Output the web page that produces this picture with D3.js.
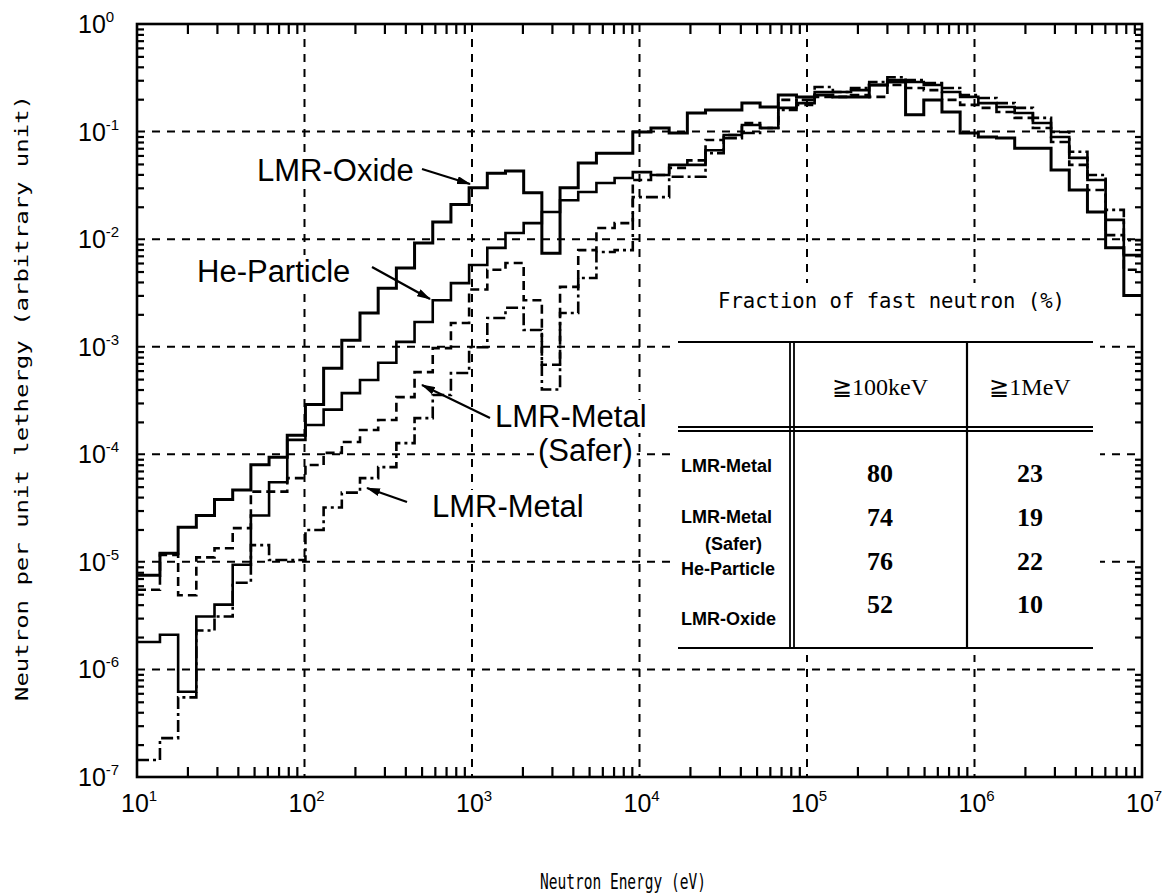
<!DOCTYPE html>
<html>
<head>
<meta charset="utf-8">
<script src="https://cdn.jsdelivr.net/npm/d3@7"></script>
<style>
  body { margin: 0; background: #fff; }
  text { fill: #000; }
</style>
</head>
<body>
<svg id="chart" width="1168" height="895"></svg>
<script>
// energy group boundaries (eV): 0.25 lethargy wide groups below 10 MeV, cut at the 10 eV axis
const groupEdges = d3.range(55).map(k => 1e7 * Math.exp(-0.25 * k)).concat([10]).reverse()

// neutron flux per unit lethargy, one value per group, low energy -> high energy
const lmrOxide = [7.5e-6, 1.2e-5, 2.1e-5, 2.7e-5, 3.8e-5, 4.65e-5, 8.0e-5, 9.4e-5, 1.5e-4, 2.9e-4,
  6.3e-4, 1.15e-3, 2.06e-3, 3.5e-3, 5.4e-3, 9.2e-3, 1.44e-2, 2.1e-2, 3.0e-2, 4.1e-2,
  4.3e-2, 2.7e-2, 7.4e-3, 3.0e-2, 5.1e-2, 6.3e-2, 6.3e-2, 9.9e-2, 0.108, 0.097,
  0.149, 0.159, 0.159, 0.184, 0.169, 0.219, 0.21, 0.219, 0.21, 0.21,
  0.271, 0.289, 0.143, 0.197, 0.152, 0.097, 0.089, 0.087, 0.070, 0.070,
  0.044, 0.0286, 0.0179, 0.0083, 0.0030]

const heParticle = [1.8e-6, 2.1e-6, 6.2e-7, 3.1e-6, 4.0e-6, 9.4e-6, 2.7e-5, 5.5e-5, 1.36e-4, 1.87e-4,
  2.6e-4, 3.7e-4, 4.9e-4, 7.1e-4, 1.11e-3, 1.7e-3, 2.7e-3, 3.9e-3, 5.75e-3, 8.3e-3,
  1.14e-2, 1.41e-2, 1.79e-2, 2.3e-2, 2.74e-2, 3.33e-2, 3.7e-2, 4.2e-2, 3.95e-2, 4.9e-2,
  4.9e-2, 6.7e-2, 9.3e-2, 0.115, 0.108, 0.166, 0.184, 0.233, 0.233, 0.243,
  0.271, 0.301, 0.289, 0.271, 0.233, 0.21, 0.184, 0.169, 0.149, 0.12,
  0.089, 0.057, 0.0355, 0.0151, 0.0071]

const lmrMetalSafer = [5.5e-6, 1.16e-5, 4.9e-6, 1.1e-5, 1.34e-5, 2.06e-5, 4.5e-5, 4.5e-5, 6.0e-5, 7.95e-5,
  1.03e-4, 1.3e-4, 1.68e-4, 2.08e-4, 3.4e-4, 5.8e-4, 9.7e-4, 1.66e-3, 3.4e-3, 5.2e-3,
  6.0e-3, 2.7e-3, 6.8e-4, 3.6e-3, 7.9e-3, 1.27e-2, 1.41e-2, 3.55e-2, 3.95e-2, 4.6e-2,
  5.4e-2, 8.35e-2, 9.3e-2, 0.12, 0.108, 0.197, 0.177, 0.21, 0.21, 0.219,
  0.21, 0.271, 0.254, 0.243, 0.197, 0.177, 0.166, 0.152, 0.134, 0.108,
  0.08, 0.049, 0.0286, 0.0109, 0.0052]

const lmrMetal = [1.44e-7, 2.3e-7, 5.5e-7, 2.3e-6, 3.1e-6, 6.4e-6, 1.43e-5, 1.04e-5, 1.04e-5, 1.98e-5,
  3.2e-5, 4.4e-5, 6.0e-5, 7.6e-5, 1.27e-4, 2.17e-4, 3.56e-4, 5.7e-4, 9.9e-4, 1.85e-3,
  2.3e-3, 1.43e-3, 4.0e-4, 2.06e-3, 4.35e-3, 7.6e-3, 7.9e-3, 2.46e-2, 2.46e-2, 3.8e-2,
  3.8e-2, 6.3e-2, 8.7e-2, 9.7e-2, 0.108, 0.159, 0.197, 0.26, 0.233, 0.254,
  0.289, 0.32, 0.301, 0.283, 0.254, 0.219, 0.205, 0.184, 0.166, 0.134,
  0.099, 0.065, 0.0395, 0.0187, 0.0098]

// inset table
const tableRows = ["LMR-Metal", "LMR-Metal", "He-Particle", "LMR-Oxide"]
const tableCols = ["≧100keV", "≧1MeV"]
const fracAbove100keV = [80, 74, 76, 52]
const fracAbove1MeV = [23, 19, 22, 10]

const xDecades = [1e1, 1e2, 1e3, 1e4, 1e5, 1e6, 1e7]
const yDecades = [1e-7, 1e-6, 1e-5, 1e-4, 1e-3, 1e-2, 1e-1, 1e0]

const svg = d3.select("#chart")
const plot = { left: 137, right: 1142, top: 24, bottom: 777 }

const x = d3.scaleLog().domain([10, 1e7]).range([plot.left, plot.right])
const y = d3.scaleLog().domain([1e-7, 1]).range([plot.bottom, plot.top])

const FONT = "'Liberation Sans', Arial, sans-serif"
const MONO = "'DejaVu Sans Mono', 'Liberation Mono', monospace"
const SERIF = "'Liberation Serif', 'DejaVu Serif', serif"

const defs = svg.append("defs")
defs.append("clipPath").attr("id", "plotclip")
  .append("rect")
  .attr("x", plot.left).attr("y", plot.top)
  .attr("width", plot.right - plot.left).attr("height", plot.bottom - plot.top)

// dashed decade grid
const grid = svg.append("g").attr("class", "grid")
  .attr("stroke", "#000").attr("stroke-width", 2).attr("stroke-dasharray", "8,7")
grid.selectAll("line.gx").data(xDecades.slice(1, -1)).enter().append("line")
  .attr("x1", d => x(d)).attr("x2", d => x(d))
  .attr("y1", plot.top).attr("y2", plot.bottom)
grid.selectAll("line.gy").data(yDecades.slice(1, -1)).enter().append("line")
  .attr("y1", d => y(d)).attr("y2", d => y(d))
  .attr("x1", plot.left).attr("x2", plot.right)

// spectra as step histograms
const seriesList = [
  { name: "LMR-Oxide", values: lmrOxide, width: 3, dash: null },
  { name: "He-Particle", values: heParticle, width: 2.6, dash: null },
  { name: "LMR-Metal (Safer)", values: lmrMetalSafer, width: 2.6, dash: "9,5" },
  { name: "LMR-Metal", values: lmrMetal, width: 2.6, dash: "12,4,3,4" }
]

const stepLine = d3.line()
  .x(d => x(d[0]))
  .y(d => y(d[1]))
  .curve(d3.curveStepAfter)

const lines = svg.append("g").attr("clip-path", "url(#plotclip)")
seriesList.forEach(s => {
  const pts = s.values.map((v, i) => [groupEdges[i], v])
  pts.push([groupEdges[groupEdges.length - 1], s.values[s.values.length - 1]])
  lines.append("path")
    .datum(pts)
    .attr("d", stepLine)
    .attr("fill", "none")
    .attr("stroke", "#000")
    .attr("stroke-width", s.width)
    .attr("stroke-dasharray", s.dash)
    .attr("stroke-linejoin", "miter")
})

// the inset table sits on a white panel that hides the grid behind it
svg.append("rect")
  .attr("x", 670).attr("y", 283).attr("width", 430).attr("height", 372)
  .attr("fill", "#fff")

// minor ticks, drawn inward on all four sides
const isDecade = d => Math.abs(Math.log10(d) - Math.round(Math.log10(d))) < 1e-6
const xMinor = x.ticks().filter(d => !isDecade(d))
const yMinor = y.ticks().filter(d => !isDecade(d))

function tickAxis(axis, transform) {
  const g = svg.append("g").attr("transform", transform).call(axis)
  g.select(".domain").remove()
  g.selectAll(".tick line").attr("stroke", "#000").attr("stroke-width", 2.2)
  g.selectAll(".tick text").remove()
}
tickAxis(d3.axisBottom(x).tickValues(xMinor).tickSize(-10), `translate(0,${plot.bottom})`)
tickAxis(d3.axisTop(x).tickValues(xMinor).tickSize(-10), `translate(0,${plot.top})`)
tickAxis(d3.axisLeft(y).tickValues(yMinor).tickSize(-7), `translate(${plot.left},0)`)
tickAxis(d3.axisRight(y).tickValues(yMinor).tickSize(-7), `translate(${plot.right},0)`)

// frame
svg.append("rect")
  .attr("x", plot.left).attr("y", plot.top)
  .attr("width", plot.right - plot.left).attr("height", plot.bottom - plot.top)
  .attr("fill", "none").attr("stroke", "#000").attr("stroke-width", 2.6)

// tick labels: 10 with a raised exponent
const xLab = svg.append("g").attr("font-family", FONT)
xDecades.forEach(d => {
  const t = xLab.append("text").attr("x", x(d) - 16).attr("y", 812).attr("font-size", 25)
  t.append("tspan").text("10")
  t.append("tspan").attr("dy", -11).attr("font-size", 15).text(Math.round(Math.log10(d)))
})
const yLab = svg.append("g").attr("font-family", FONT)
yDecades.forEach(d => {
  const t = yLab.append("text").attr("x", 78).attr("y", y(d) + 9).attr("font-size", 25)
  t.append("tspan").text("10")
  const e = Math.round(Math.log10(d))
  t.append("tspan").attr("dy", -11).attr("font-size", 15).text(e === 0 ? "0" : "-" + Math.abs(e))
})

// axis titles
svg.append("text")
  .attr("x", 540).attr("y", 889)
  .attr("font-family", MONO).attr("font-size", 22)
  .attr("textLength", 166).attr("lengthAdjust", "spacingAndGlyphs")
  .text("Neutron Energy  (eV)")

svg.append("text")
  .attr("transform", "translate(28,398) rotate(-90)")
  .attr("text-anchor", "middle")
  .attr("font-family", MONO).attr("font-size", 18)
  .attr("textLength", 606).attr("lengthAdjust", "spacingAndGlyphs")
  .text("Neutron per unit lethergy (arbitrary unit)")

// series labels with arrows
defs.append("marker")
  .attr("id", "arrowhead")
  .attr("viewBox", "0 0 14 8").attr("refX", 13).attr("refY", 4)
  .attr("markerWidth", 14).attr("markerHeight", 8)
  .attr("markerUnits", "userSpaceOnUse")
  .attr("orient", "auto")
  .append("path").attr("d", "M0,0 L14,4 L0,8 Z").attr("fill", "#000")

const notes = [
  { text: "LMR-Oxide", x: 257, y: 181, from: [422, 169], to: [470, 184] },
  { text: "He-Particle", x: 197, y: 282, from: [372, 267], to: [430, 299] },
  { text: "LMR-Metal", x: 495, y: 427, from: [490, 418], to: [422, 385] },
  { text: "(Safer)", x: 538, y: 461, from: null, to: null },
  { text: "LMR-Metal", x: 432, y: 517, from: [407, 502], to: [367, 488] }
]
const noteG = svg.append("g").attr("font-family", FONT)
notes.forEach(n => {
  const bg = noteG.append("rect").attr("fill", "#fff")
  const t = noteG.append("text").attr("x", n.x).attr("y", n.y).attr("font-size", 31).text(n.text)
  const b = t.node().getBBox()
  bg.attr("x", b.x - 4).attr("y", b.y + 1).attr("width", b.width + 8).attr("height", b.height - 2)
  if (n.from) {
    noteG.append("line")
      .attr("x1", n.from[0]).attr("y1", n.from[1])
      .attr("x2", n.to[0]).attr("y2", n.to[1])
      .attr("stroke", "#000").attr("stroke-width", 2.2)
      .attr("marker-end", "url(#arrowhead)")
  }
})

// inset table: fraction of fast neutrons
const tbl = { left: 678, right: 1093, top: 342, head: 427, bottom: 648, col1: 790, col2: 967 }
const tg = svg.append("g").attr("stroke", "#000")
tg.append("text")
  .attr("x", 718).attr("y", 308).attr("stroke", "none")
  .attr("font-family", MONO).attr("font-size", 21)
  .attr("textLength", 347).attr("lengthAdjust", "spacingAndGlyphs")
  .text("Fraction of fast neutron (%)")
tg.append("line").attr("x1", tbl.left).attr("x2", tbl.right).attr("y1", tbl.top).attr("y2", tbl.top).attr("stroke-width", 2.2)
tg.append("line").attr("x1", tbl.left).attr("x2", tbl.right).attr("y1", tbl.head).attr("y2", tbl.head).attr("stroke-width", 1.8)
tg.append("line").attr("x1", tbl.left).attr("x2", tbl.right).attr("y1", tbl.head + 4).attr("y2", tbl.head + 4).attr("stroke-width", 1.8)
tg.append("line").attr("x1", tbl.left).attr("x2", tbl.right).attr("y1", tbl.bottom).attr("y2", tbl.bottom).attr("stroke-width", 2.2)
tg.append("line").attr("x1", tbl.col1).attr("x2", tbl.col1).attr("y1", tbl.top).attr("y2", tbl.bottom).attr("stroke-width", 1.8)
tg.append("line").attr("x1", tbl.col1 + 4).attr("x2", tbl.col1 + 4).attr("y1", tbl.top).attr("y2", tbl.bottom).attr("stroke-width", 1.8)
tg.append("line").attr("x1", tbl.col2).attr("x2", tbl.col2).attr("y1", tbl.top).attr("y2", tbl.bottom).attr("stroke-width", 2.2)

const colX = [880, 1030]
const tText = svg.append("g")
tableCols.forEach((c, i) => {
  tText.append("text").attr("x", colX[i]).attr("y", 395).attr("text-anchor", "middle")
    .attr("font-family", SERIF).attr("font-size", 24)
    .text(c)
})
const rowLabelY = [472, 523, 575, 625]
tableRows.forEach((r, i) => {
  tText.append("text").attr("x", 681).attr("y", rowLabelY[i])
    .attr("font-family", FONT).attr("font-weight", "bold").attr("font-size", 18)
    .text(r)
})
tText.append("text").attr("x", 705).attr("y", 550)
  .attr("font-family", FONT).attr("font-weight", "bold").attr("font-size", 18)
  .text("(Safer)")
const numY = [482, 526, 570, 613]
const numCols = [fracAbove100keV, fracAbove1MeV]
numCols.forEach((col, c) => {
  col.forEach((v, i) => {
    tText.append("text").attr("x", colX[c]).attr("y", numY[i]).attr("text-anchor", "middle")
      .attr("font-family", SERIF).attr("font-weight", "bold").attr("font-size", 26)
      .text(v)
  })
})
</script>
</body>
</html>
